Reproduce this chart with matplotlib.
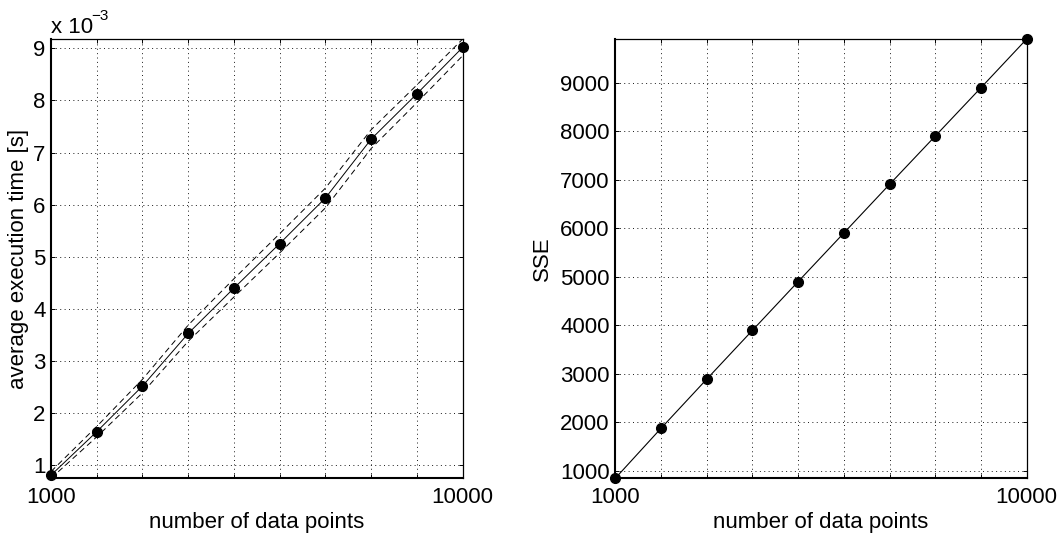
import matplotlib
matplotlib.use("Agg")
import matplotlib.pyplot as plt
from matplotlib.ticker import FuncFormatter, FixedLocator
import numpy as np

plt.rcParams['font.family'] = ['Liberation Sans', 'DejaVu Sans']

# ---- data ----
n_points = [1000, 2000, 3000, 4000, 5000, 6000, 7000, 8000, 9000, 10000]
mean_time = [0.81e-3, 1.645e-3, 2.52e-3, 3.53e-3, 4.40e-3, 5.255e-3, 6.13e-3, 7.26e-3, 8.13e-3, 9.02e-3]
time_upper = [0.88e-3, 1.745e-3, 2.65e-3, 3.69e-3, 4.58e-3, 5.445e-3, 6.32e-3, 7.44e-3, 8.30e-3, 9.18e-3]
time_lower = [0.75e-3, 1.545e-3, 2.39e-3, 3.38e-3, 4.23e-3, 5.075e-3, 5.94e-3, 7.08e-3, 7.96e-3, 8.86e-3]
sse = [845, 1876, 2890, 3897, 4903, 5905, 6909, 7905, 8903, 9907]

x_tick_values = [1000, 2000, 3000, 4000, 5000, 6000, 7000, 8000, 9000, 10000]
x_tick_labels = ['1000', '', '', '', '', '', '', '', '', '10000']
time_ticks = [1e-3, 2e-3, 3e-3, 4e-3, 5e-3, 6e-3, 7e-3, 8e-3, 9e-3]
sse_ticks = [1000, 2000, 3000, 4000, 5000, 6000, 7000, 8000, 9000]

W, H = 1064, 535
fig = plt.figure(figsize=(W / 100, H / 100), dpi=100)

def px_rect(x0, y0, x1, y1):
    return [x0 / W, 1 - y1 / H, (x1 - x0) / W, (y1 - y0) / H]

ax1 = fig.add_axes(px_rect(51, 39, 462.7, 478.3))
ax2 = fig.add_axes(px_rect(615.3, 39, 1026.7, 478.3))

FS = 16

def style(ax):
    ax.set_xlim(n_points[0], n_points[-1])
    ax.xaxis.set_major_locator(FixedLocator(x_tick_values))
    ax.set_xticklabels(x_tick_labels)
    ax.grid(True, color='0.1', linestyle=(0, (1, 3.5)), linewidth=0.7)
    ax.tick_params(direction='in', top=True, right=True, length=3.2, width=0.7,
                   labelsize=FS)
    ax.tick_params(axis='x', pad=6)
    ax.tick_params(axis='y', pad=4)
    for s in ['left', 'bottom']:
        ax.spines[s].set_linewidth(1.5)
    for s in ['top', 'right']:
        ax.spines[s].set_linewidth(0.9)
    for sp in ax.spines.values():
        sp.set_zorder(5)
    ax.set_xlabel('number of data points', fontsize=FS, labelpad=3)

# left plot
ax1.plot(n_points, time_upper, color='black', linewidth=0.7, dashes=(6, 4))
ax1.plot(n_points, time_lower, color='black', linewidth=0.7, dashes=(6, 4))
ax1.plot(n_points, mean_time, color='black', linewidth=0.7, marker='o',
         markersize=7, markerfacecolor='black', markeredgecolor='black',
         clip_on=False, zorder=4)
ax1.set_ylim(min(time_lower), max(time_upper))
ax1.yaxis.set_major_locator(FixedLocator(time_ticks))
ax1.yaxis.set_major_formatter(FuncFormatter(lambda v, p: '%g' % round(v * 1000, 6)))
style(ax1)
ax1.set_ylabel('average execution time [s]', fontsize=FS, labelpad=3)

fig.text(51 / W, 1 - 33.3 / H, 'x 10', fontsize=FS, ha='left', va='baseline')
fig.text(91.5 / W, 1 - 20.5 / H, '\u22123', fontsize=11, ha='left', va='baseline')

# right plot
ax2.plot(n_points, sse, color='black', linewidth=0.8, marker='o',
         markersize=7, markerfacecolor='black', markeredgecolor='black',
         clip_on=False, zorder=4)
ax2.set_ylim(min(sse), max(sse))
ax2.yaxis.set_major_locator(FixedLocator(sse_ticks))
style(ax2)
ax2.set_ylabel('SSE', fontsize=FS, labelpad=5)

fig.savefig('out.png', dpi=100)
